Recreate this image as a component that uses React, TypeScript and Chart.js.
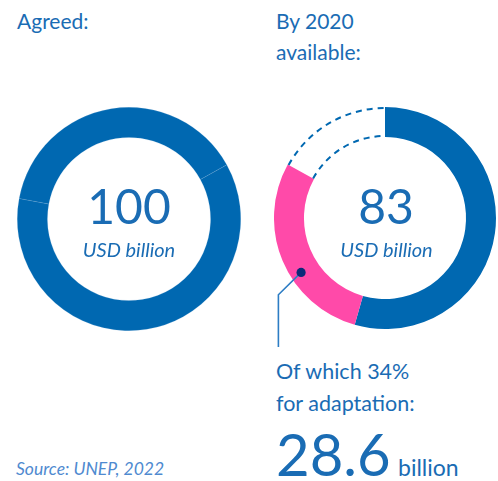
import React, { useEffect, useRef } from "react";
import { Chart, registerables } from "chart.js";

Chart.register(...registerables);

// ---- data ----
const agreedTotal = 100;
const agreedLabels = ["Part A", "Part B"];
const agreedSegments = [61, 39];
const availableTotal = 83;
const availableLabels = ["Other climate finance", "Adaptation", "Shortfall"];
const availableValues = [54.4, 28.6, 17];
const adaptationShare = 34;
const adaptationAmount = 28.6;

const BLUE = "#0068b1";
const PINK = "#ff4aa9";
const TEXT = "#1a6cb4";
const NAVY = "#0b2a78";
const LINE = "#2d7dc4";
const FONT = "Lato, 'Noto Sans', sans-serif";

const dashedGapPlugin = {
  id: "dashedGap",
  afterDatasetsDraw(chart: any) {
    const meta = chart.getDatasetMeta(0);
    const ctx = chart.ctx;
    const gap = meta.data[2];
    if (gap) {
      const p = gap.getProps(["x", "y", "startAngle", "endAngle", "innerRadius", "outerRadius"], true);
      ctx.save();
      ctx.strokeStyle = BLUE;
      ctx.lineWidth = 2;
      ctx.setLineDash([6, 5]);
      ctx.beginPath();
      ctx.arc(p.x, p.y, p.outerRadius - 1, p.startAngle, p.endAngle);
      ctx.stroke();
      ctx.beginPath();
      ctx.arc(p.x, p.y, p.innerRadius + 1, p.startAngle, p.endAngle);
      ctx.stroke();
      ctx.restore();
    }
    const ad = meta.data[1];
    if (ad) {
      const p = ad.getProps(["x", "y", "startAngle", "endAngle", "innerRadius", "outerRadius"], true);
      const a = p.startAngle + 0.4 * (p.endAngle - p.startAngle);
      const r = (p.innerRadius + p.outerRadius) / 2 + 4;
      const dx = p.x + r * Math.cos(a);
      const dy = p.y + r * Math.sin(a);
      const ex = dx - 22.7;
      const ey = dy + 22.3;
      ctx.save();
      ctx.strokeStyle = LINE;
      ctx.lineWidth = 1.6;
      ctx.beginPath();
      ctx.moveTo(dx, dy);
      ctx.lineTo(ex, ey);
      ctx.lineTo(ex, chart.height - 5);
      ctx.stroke();
      ctx.fillStyle = NAVY;
      ctx.beginPath();
      ctx.arc(dx, dy, 4.6, 0, Math.PI * 2);
      ctx.fill();
      ctx.restore();
    }
  },
};

function Donut(props: { style: any; config: any }) {
  const ref = useRef<HTMLCanvasElement | null>(null);
  useEffect(() => {
    if (!ref.current) return;
    const chart = new Chart(ref.current, props.config);
    return () => chart.destroy();
  }, []);
  return (
    <div style={{ position: "absolute", ...props.style }}>
      <canvas ref={ref} />
    </div>
  );
}

function Txt(props: { x: number; base: number; size: number; italic?: boolean; center?: boolean; color?: string; children: any }) {
  const top = props.base - 0.887 * props.size;
  return (
    <div
      style={{
        position: "absolute",
        left: props.x,
        top,
        fontSize: props.size,
        lineHeight: 1,
        fontFamily: FONT,
        fontStyle: props.italic ? "italic" : "normal",
        color: props.color || TEXT,
        whiteSpace: "nowrap",
        transform: props.center ? "translateX(-50%)" : undefined,
      }}
    >
      {props.children}
    </div>
  );
}

export default function App() {
  useEffect(() => {
    document.body.style.margin = "0";
  }, []);

  const common = {
    responsive: true,
    maintainAspectRatio: false,
    animation: false,
    cutout: "73%",
    plugins: { legend: { display: false }, tooltip: { enabled: false } },
    events: [],
  };

  const leftConfig = {
    type: "doughnut",
    data: {
      labels: agreedLabels,
      datasets: [
        {
          data: agreedSegments,
          backgroundColor: [BLUE, BLUE],
          borderColor: "rgba(150,190,225,0.35)",
          borderWidth: 0.5,
        },
      ],
    },
    options: { ...common, rotation: 61 },
  };

  const rightConfig = {
    type: "doughnut",
    data: {
      labels: availableLabels,
      datasets: [
        {
          data: availableValues,
          backgroundColor: [BLUE, PINK, "rgba(0,0,0,0)"],
          borderWidth: 0,
        },
      ],
    },
    options: { ...common, layout: { padding: { left: 0, right: 2, top: 0, bottom: 23 } } },
    plugins: [dashedGapPlugin],
  };

  return (
    <div style={{ position: "relative", width: 498, height: 481, overflow: "hidden", background: "#fff" }}>
      <Donut style={{ left: 17, top: 107, width: 224, height: 224 }} config={leftConfig} />
      <Donut style={{ left: 274, top: 107, width: 224, height: 245 }} config={rightConfig} />

      <Txt x={17} base={28.3} size={21}>Agreed:</Txt>
      <Txt x={276} base={28.3} size={21}>By 2020</Txt>
      <Txt x={276} base={60} size={21}>available:</Txt>

      <Txt x={129} base={225} size={48} center>{String(agreedTotal)}</Txt>
      <Txt x={129} base={256.7} size={20} italic center>USD billion</Txt>
      <Txt x={386} base={225} size={48} center>{String(availableTotal)}</Txt>
      <Txt x={386.5} base={256.7} size={20} italic center>USD billion</Txt>

      <Txt x={276} base={380} size={21.5}>{`Of which ${adaptationShare}%`}</Txt>
      <Txt x={276} base={411.7} size={21.5}>for adaptation:</Txt>
      <Txt x={276} base={476.7} size={58}>{String(adaptationAmount)}</Txt>
      <Txt x={398} base={476.7} size={23}>billion</Txt>

      <Txt x={16} base={476} size={17.5} italic color="#4f8ad0">Source: UNEP, 2022</Txt>
    </div>
  );
}
